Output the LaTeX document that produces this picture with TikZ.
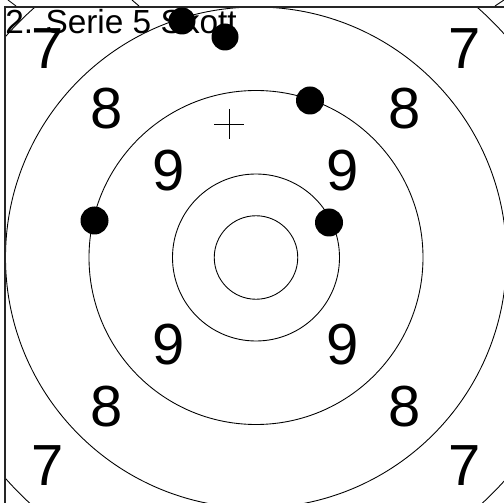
\documentclass[tikz,border=0pt]{standalone}
\usepackage{fontspec}
\setmainfont{Liberation Sans}
\usetikzlibrary{positioning}

\tikzset{
    ring/.style={line width=0.5pt},
    frame/.style={line width=0.9pt, draw=black!85},
    zone/.style={font=\fontsize{33}{33}\selectfont, inner sep=0pt},
    title/.style={font=\fontsize{19}{19}\selectfont, inner sep=0pt, anchor=base west},
}

\begin{document}
\begin{tikzpicture}[x=0.02cm, y=-0.02cm]
    \useasboundingbox (0,0) rectangle (504,503);
    \clip (0,0) rectangle (504,503);

    % Target centre
    \coordinate (c) at (256,257.5);

    % Rings (cut by the frame)
    \begin{scope}
        \clip (5,7) rectangle (507,508);
        \draw[ring] (c) circle (41.75);
        \draw[ring] (c) circle (83.5);
        \draw[ring] (c) circle (167);
        \draw[ring] (c) circle (250.5);
        \draw[ring] (c) circle (334);
    \end{scope}

    % Frame
    \draw[frame] (5,7) rectangle (507,508);
    \draw[ring] (8,0) -- (16,6);
    \draw[ring] (132,0) -- (139,6);
    \draw[ring] (495,6) -- (504,0);

    % Zone numbers
    \node[zone] (sevenNW) at (47.5,49) {7};
    \node[zone] (sevenNE) at (464.5,49) {7};
    \node[zone] (sevenSW) at (47.5,466) {7};
    \node[zone] (sevenSE) at (464.5,466) {7};
    \node[zone] (eightNW) at (107,108.5) {8};
    \node[zone] (eightNE) at (405,108.5) {8};
    \node[zone] (eightSW) at (107,406.5) {8};
    \node[zone] (eightSE) at (405,406.5) {8};
    \node[zone] (nineNW) at (169,170.5) {9};
    \node[zone] (nineNE) at (343,170.5) {9};
    \node[zone] (nineSW) at (169,344.5) {9};
    \node[zone] (nineSE) at (343,344.5) {9};

    % Title
    \node[title] (serie) at (5,34) {2. Serie 5 Skott};

    % Aim mark
    \draw[ring] (214,124) -- (244,124);
    \draw[ring] (229,109) -- (229,139);

    % Shots
    \fill (182,21) circle (13.5);
    \fill (225,37) circle (13.5);
    \fill (310,100.5) circle (14);
    \fill (94.5,220.5) circle (14);
    \fill (329,222.5) circle (14);
\end{tikzpicture}
\end{document}
